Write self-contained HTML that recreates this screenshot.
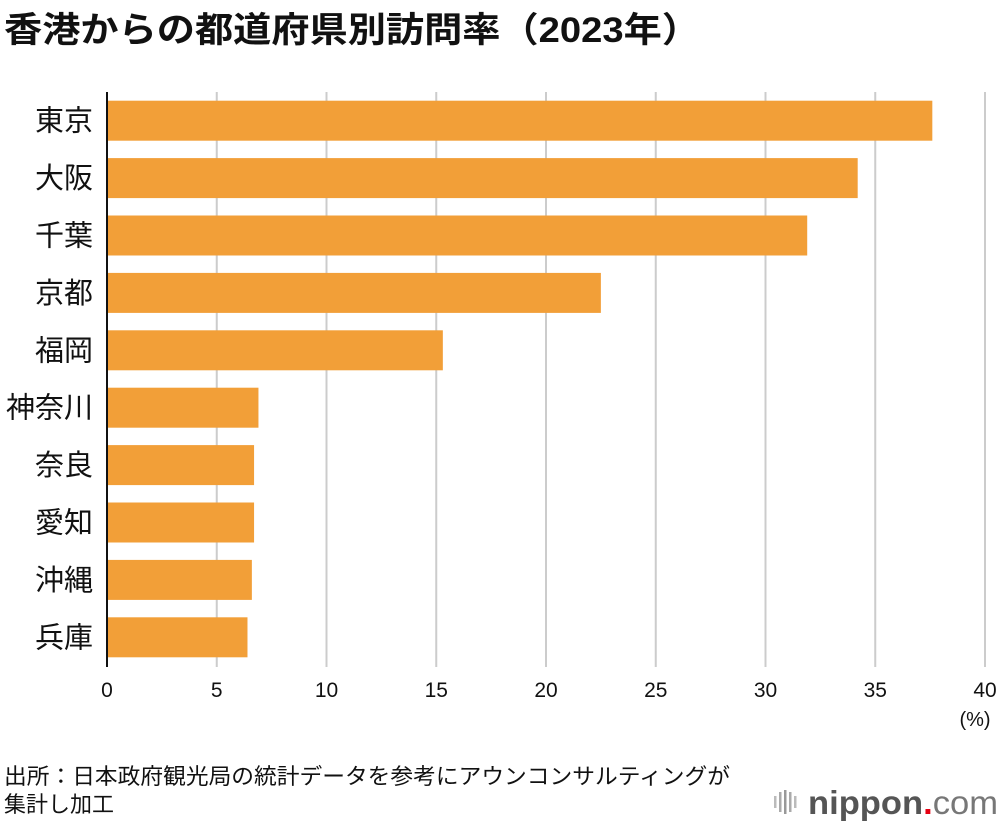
<!DOCTYPE html>
<html><head><meta charset="utf-8"><style>
body{margin:0;background:#fff;width:1000px;height:824px;overflow:hidden;font-family:"Liberation Sans","Noto Sans CJK JP",sans-serif;}
</style></head><body>
<svg width="1000" height="824" xmlns="http://www.w3.org/2000/svg" style="font-family:'Liberation Sans','Noto Sans CJK JP',sans-serif">
<text x="4" y="42" font-size="35" font-weight="bold" fill="#111" textLength="696" lengthAdjust="spacingAndGlyphs">香港からの都道府県別訪問率（2023年）</text>
<g id="grid"></g>
<g id="bars"></g>
<g id="ylabels"></g>
<g id="xticks"></g>
<line x1="107" y1="92" x2="107" y2="667" stroke="#111" stroke-width="2"/>
<text x="975" y="726" font-size="20" text-anchor="middle" fill="#111">(%)</text>
<text x="4" y="784" font-size="22" fill="#111" textLength="726" lengthAdjust="spacingAndGlyphs">出所：日本政府観光局の統計データを参考にアウンコンサルティングが</text>
<text x="4" y="812" font-size="22" fill="#111">集計し加工</text>
<g>
<rect x="774" y="796" width="2.5" height="12" fill="#bbb"/><rect x="779" y="792" width="2.5" height="20" fill="#aaa"/><rect x="784" y="790" width="2.5" height="24" fill="#999"/><rect x="789" y="792" width="2.5" height="20" fill="#aaa"/><rect x="794" y="796" width="2.5" height="12" fill="#bbb"/>
<text x="808" y="814" font-size="33" fill="#555" textLength="190" lengthAdjust="spacingAndGlyphs"><tspan font-weight="bold">nippon</tspan><tspan fill="#e60012" font-weight="bold">.</tspan><tspan fill="#777">com</tspan></text>
</g>
</svg>
<script>
const categories=["東京","大阪","千葉","京都","福岡","神奈川","奈良","愛知","沖縄","兵庫"];
const values=[37.6,34.2,31.9,22.5,15.3,6.9,6.7,6.7,6.6,6.4];
const tickValues=[0,5,10,15,20,25,30,35,40];
const NS="http://www.w3.org/2000/svg";
const x0=107,x1=985,xmax=40;
const xs=v=>x0+(v/xmax)*(x1-x0);
const rowTop=92,rowStep=57.4,barH=40;
const yc=i=>rowTop+rowStep*(i+0.5);
function mk(tag,attrs,parent){const e=document.createElementNS(NS,tag);for(const k in attrs)e.setAttribute(k,attrs[k]);document.getElementById(parent).appendChild(e);return e;}
tickValues.forEach(t=>{
  if(t>0){const g=mk("line",{x1:xs(t),x2:xs(t),y1:92,y2:667,stroke:"#ccc","stroke-width":2},"grid");
  
  }
  const tx=mk("text",{x:xs(t),y:697,"font-size":21,"text-anchor":"middle",fill:"#111"},"xticks");
  tx.textContent=t;
  
  
});
categories.forEach((c,i)=>{
  const r=mk("rect",{x:x0,y:yc(i)-barH/2,width:xs(values[i])-x0,height:barH,fill:"#f29f38"},"bars");
  
  
  const l=mk("text",{x:93,y:yc(i)+10,"font-size":29,"text-anchor":"end",fill:"#111"},"ylabels");
  l.textContent=c;
  
  
});
</script>
</body></html>
